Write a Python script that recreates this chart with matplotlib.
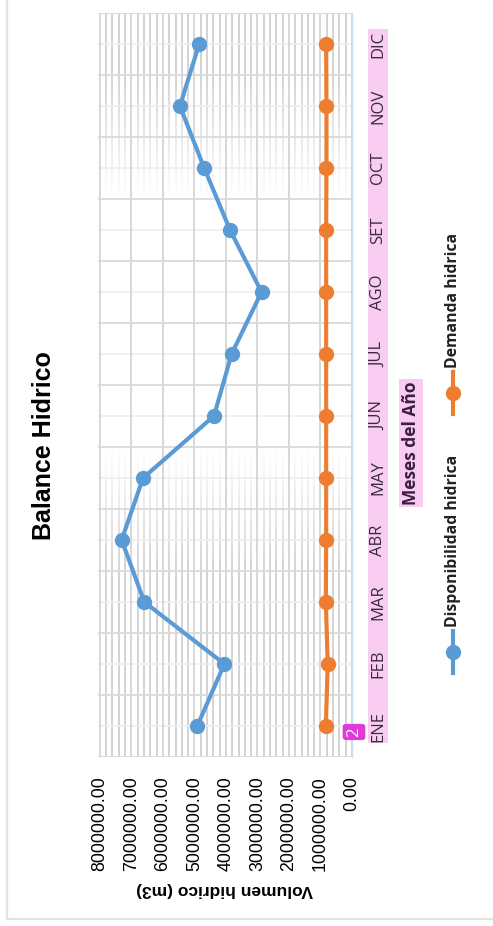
import numpy as np
import matplotlib.pyplot as plt
from matplotlib.lines import Line2D
from matplotlib.patches import Rectangle
from matplotlib.collections import LineCollection

meses = ['ENE', 'FEB', 'MAR', 'ABR', 'MAY', 'JUN', 'JUL', 'AGO', 'SET', 'OCT', 'NOV', 'DIC']
disponibilidad = [4910000, 4050000, 6590000, 7310000, 6630000, 4380000,
                  3820000, 2870000, 3870000, 4690000, 5460000, 4850000]
demanda = [830000, 770000, 830000, 820000, 820000, 820000,
           820000, 820000, 820000, 810000, 810000, 820000]
ticks_vol = [0, 1000000, 2000000, 3000000, 4000000, 5000000, 6000000, 7000000, 8000000]

AZUL = '#5b9bd5'
NARANJA = '#ed7d31'
W, H = 493, 926

fig = plt.figure(figsize=(W / 100, H / 100), dpi=100)


def px(x, y):
    # pixel (from top-left) -> figure fraction
    return x / W, 1 - y / H


# the whole chart is laid out turned on its side: volume runs right-to-left,
# months run bottom-to-top
x0, x1, ytop, ybot = 98, 352, 13, 757
ax = fig.add_axes([x0 / W, 1 - ybot / H, (x1 - x0) / W, (ybot - ytop) / H])
pos = np.arange(len(meses))
ax.set_xlim(8060000, 0)
ax.set_ylim(-0.5, len(meses) - 0.5)

# faint dense vertical lines, stronger near the top and bottom of the plot
ys = np.linspace(-0.5, len(meses) - 0.5, 200)
segs, cols = [], []
for v in np.arange(200000, 8060000, 200000):
    if v % 1000000 == 0:
        continue
    for a, b in zip(ys[:-1], ys[1:]):
        m = (a + b) / 2
        top = np.clip((m - 8.5) / 2.0, 0, 1)
        bot = np.clip((4.5 - m) / 2.0, 0, 1)
        al = max(top, bot) * 0.8
        segs.append([(v, a), (v, b)])
        cols.append((0.77, 0.77, 0.77, al))
ax.add_collection(LineCollection(segs, colors=cols, linewidths=1.3, zorder=0))

for v in ticks_vol:
    ax.axvline(v, color='#d4d4d4', lw=1.3, zorder=0.5)
for p in pos:
    ax.axhline(p, color='#eeeeee', lw=1.2, zorder=0.4)
for p in np.arange(-0.5, len(meses), 1.0):
    ax.axhline(p, color='#dadada', lw=1.3, zorder=0.5)

ax.plot(disponibilidad, pos, color=AZUL, lw=3.0, marker='o', ms=10, zorder=3)
ax.plot(demanda, pos, color=NARANJA, lw=3.0, marker='o', ms=10, zorder=3)

for s in ['top', 'bottom', 'left']:
    ax.spines[s].set_visible(False)
ax.spines['right'].set_color('#c9def2')
ax.spines['right'].set_linewidth(1.0)

ax.set_xticks(ticks_vol)
ax.set_xticklabels(['%.2f' % v for v in ticks_vol], rotation=90, va='top',
                   fontsize=12.8, family='Liberation Sans')
ax.tick_params(axis='x', length=0, pad=14)
ax.set_yticks([])

ax.set_xlabel('Volumen hidrico (m3)', rotation=180, fontsize=12.5,
              fontweight='bold', family='Liberation Sans', labelpad=8)

# month labels on a pink band
fx, fy = px(368, 743)
fx2, fy2 = px(388, 29)
fig.add_artist(Rectangle((fx, fy), fx2 - fx, fy2 - fy, transform=fig.transFigure,
                         facecolor='#f8cdf1', edgecolor='none', zorder=1))
for p, m in zip(pos, meses):
    yy = ax.transData.transform((0, p))[1] / fig.bbox.height
    fig.text(378 / W, yy, m, rotation=90, ha='center', va='center',
             fontsize=12, family='Open Sans', color='#3a2b3c', zorder=2)

fig.text(*px(411, 443), 'Meses del Año', rotation=90, ha='center', va='center',
         fontsize=12.5, fontweight='bold', family='Open Sans', color='#3b1f40',
         bbox=dict(boxstyle='square,pad=0.15', facecolor='#f8cdf1', edgecolor='none'))

fig.text(*px(354, 732), '2', rotation=90, ha='center', va='center',
         fontsize=12, color='white', family='Open Sans',
         bbox=dict(boxstyle='round,pad=0.2', facecolor='#e03ad8', edgecolor='none'))

# legend drawn by hand, turned like the rest
for yc, col, lab in [(652, AZUL, 'Disponibilidad hidrica'), (393, NARANJA, 'Demanda hidrica')]:
    lx, ly0 = px(453, yc + 21)
    _, ly1 = px(453, yc - 21)
    _, lyc = px(453, yc)
    fig.add_artist(Line2D([lx, lx], [ly0, ly1], color=col, lw=3.0,
                          transform=fig.transFigure))
    fig.add_artist(Line2D([lx], [lyc], color=col, marker='o', ms=10,
                          transform=fig.transFigure))
    _, ty = px(453, yc - 25)
    fig.text(lx, ty, lab, rotation=90, ha='center', va='bottom', fontsize=11.3,
             fontweight='bold', family='Open Sans', color='#222222')

fig.text(*px(44, 446), 'Balance Hidrico', rotation=90, ha='center', va='center',
         fontsize=18, fontweight='bold', family='Liberation Sans')

# outer frame
fig.add_artist(Line2D([7 / W, 7 / W], [1, 1 - 919 / H], color='#e2e2e2', lw=1.6,
                      transform=fig.transFigure))
fig.add_artist(Line2D([7 / W, 1], [1 - 919 / H, 1 - 919 / H], color='#e2e2e2', lw=1.6,
                      transform=fig.transFigure))

fig.savefig('out.png', dpi=100, facecolor='white')
